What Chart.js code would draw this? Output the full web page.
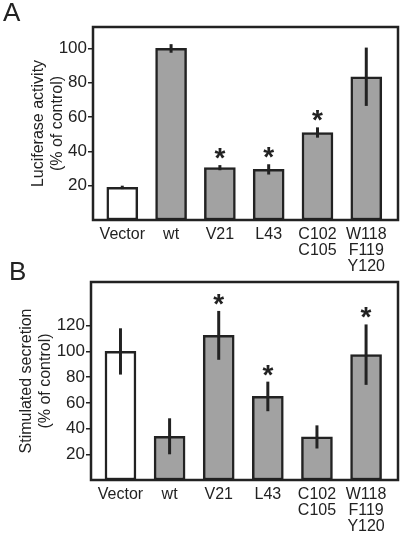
<!DOCTYPE html>
<html>
<head>
<meta charset="utf-8">
<script src="https://cdn.jsdelivr.net/npm/chart.js@4"></script>
<style>
  body { margin:0; background:#fff; }
  #wrap { position:relative; width:400px; height:535px; background:#fff; overflow:hidden; }
  canvas { position:absolute; left:0; }
  .tag { position:absolute; font-family:"Liberation Sans", Arial, sans-serif; font-size:26px; color:#222; line-height:1; }
</style>
</head>
<body>
<div id="wrap">
  <canvas id="chartA" width="400" height="280" style="top:0"></canvas>
  <canvas id="chartB" width="400" height="273" style="top:262px"></canvas>
  <div class="tag" style="left:3px;top:-1px">A</div>
  <div class="tag" style="left:9px;top:258px">B</div>
</div>
<script>
// kategori (baris baru = '\n')
const categories = ['Vector', 'wt', 'V21', 'L43', 'C102\nC105', 'W118\nF119\nY120'];

// Panel A - luciferase
const valuesA = [19, 100, 30.5, 29.5, 51, 83.5];
const errorsA = [1, 2.5, 1.5, 3, 3, 17];
const starsA  = [false, false, true, true, true, false];
const ticksA  = [20, 40, 60, 80, 100];

// Panel B - secretion
const valuesB = [100, 34, 112.5, 65, 33.5, 97.5];
const errorsB = [18, 14, 19, 11.5, 9, 23.5];
const starsB  = [false, false, true, true, false, true];
const ticksB  = [20, 40, 60, 80, 100, 120];

const ink = '#222';
const fontName = '"Liberation Sans", Arial, sans-serif';

// Ralat + bintang + kotak
const extrasPlugin = {
  id: 'extras',
  afterDatasetsDraw(chart, args, opts){
    const ctx = chart.ctx;
    const xs = chart.scales.x, ys = chart.scales.y;
    const ca = chart.chartArea;
    ctx.save();
    ctx.strokeStyle = ink;
    ctx.fillStyle = ink;
    ctx.lineWidth = 3;
    opts.values.forEach((v, i) => {
      const x = xs.getPixelForValue(i);
      const yTop = ys.getPixelForValue(v + opts.errors[i]);
      const yBot = ys.getPixelForValue(v - opts.errors[i]);
      ctx.beginPath();
      ctx.moveTo(x, yTop); ctx.lineTo(x, yBot);
      ctx.stroke();
      if(opts.stars[i]){
        ctx.font = 'bold 28px ' + fontName;
        ctx.textAlign = 'center';
        ctx.textBaseline = 'alphabetic';
        ctx.fillText('*', x, yTop - 14 + 16);
      }
    });
    ctx.lineWidth = 2.5;
    ctx.strokeRect(ca.left, ca.top, ca.right - ca.left, ca.bottom - ca.top);
    ctx.restore();
  }
};

function makeChart(id, values, errors, stars, ticks, yMax, title, layout){
  const data = values.map((v, i) => ({x: i, y: v}));
  return new Chart(document.getElementById(id), {
    type: 'bar',
    data: {
      datasets: [{
        data,
        backgroundColor: values.map((v, i) => i === 0 ? '#ffffff' : '#a2a2a2'),
        borderColor: ink,
        borderWidth: 2.5,
        borderSkipped: false,
        barThickness: 31
      }]
    },
    options: {
      responsive: false,
      animation: false,
      devicePixelRatio: 1,
      layout: { padding: { top: layout.top, right: 2, left: 0, bottom: 0 } },
      plugins: {
        legend: { display: false },
        tooltip: { enabled: false },
        extras: { values, errors, stars }
      },
      scales: {
        x: {
          type: 'linear',
          offset: false,
          min: -0.6,
          max: 5.65,
          grid: { display: false, drawTicks: false },
          border: { display: false },
          afterBuildTicks: s => { s.ticks = categories.map((c, i) => ({ value: i })); },
          afterFit: s => { s.height = layout.xH; },
          ticks: {
            autoSkip: false,
            maxRotation: 0,
            padding: 7,
            color: ink,
            font: { family: fontName, size: 16, lineHeight: 1.0 },
            callback: v => categories[v] ? categories[v].split('\n') : ''
          }
        },
        y: {
          min: 0,
          max: yMax,
          grid: { drawOnChartArea: false, drawTicks: true, tickLength: 5, color: ink, lineWidth: 1.5 },
          border: { display: false },
          afterBuildTicks: s => { s.ticks = ticks.map(t => ({ value: t })); },
          afterFit: s => { s.width = layout.yW; },
          ticks: {
            padding: 1,
            color: ink,
            font: { family: fontName, size: 17 }
          },
          title: {
            display: true,
            text: title,
            color: ink,
            padding: { top: layout.titlePad, bottom: 0 },
            font: { family: fontName, size: 16, lineHeight: 1.2 }
          }
        }
      }
    },
    plugins: [extrasPlugin]
  });
}

makeChart('chartA', valuesA, errorsA, starsA, ticksA, 112.5,
  ['Luciferase activity', '(% of control)'],
  { top: 27, xH: 60, yW: 93, titlePad: 29 });

makeChart('chartB', valuesB, errorsB, starsB, ticksB, 154,
  ['Stimulated secretion', '(% of control)'],
  { top: 20, xH: 55, yW: 91, titlePad: 17 });
</script>
</body>
</html>
